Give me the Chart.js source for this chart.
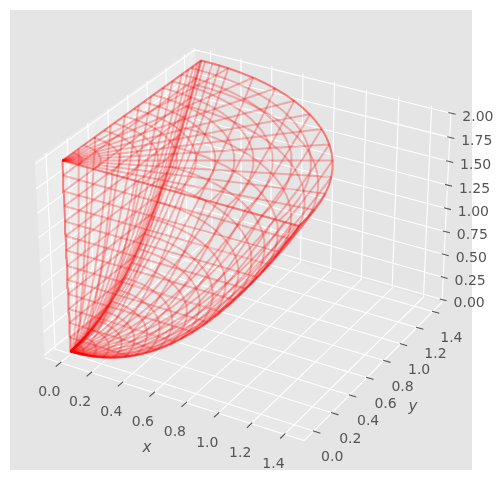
<!DOCTYPE html>
<html>
<head>
<meta charset="utf-8">
<style>
  body { margin: 0; background: white; }
  canvas { display: block; }
</style>
<script src="https://cdn.jsdelivr.net/npm/chart.js@4/dist/chart.umd.min.js"></script>
</head>
<body>
<canvas id="mychart" width="502" height="483"></canvas>
<script>
// wire positions
const topRings = [0.1, 0.2, 0.3, 0.4, 0.5, 0.6, 0.7, 0.8, 0.9, 1.0, 1.1, 1.2, 1.3, 1.414];
const bowlRings = [0.07, 0.14, 0.21, 0.28, 0.35, 0.42, 0.49, 0.56, 0.64, 0.71, 0.78, 0.85, 0.92, 0.99, 1.06, 1.13, 1.2, 1.27, 1.34, 1.414];
const topRays = [0, 7.5, 15, 22.5, 30, 37.5, 45, 52.5, 60, 67.5, 75, 82.5, 90];
const bowlRays = [0, 1.5, 7.5, 15, 22.5, 30, 37.5, 45, 52.5, 60, 67.5, 75, 82.5, 85, 87, 89, 90];
const wallLevels = [0.15, 0.31, 0.46, 0.62, 0.77, 0.92, 1.08, 1.23, 1.38, 1.54, 1.69, 1.85, 2];
const wallSpreads = [0, 0.11, 0.22, 0.33, 0.43, 0.53, 0.62, 0.71, 0.78, 0.85, 0.9, 0.94, 0.97, 0.99, 1];

const xTicks = [0, 0.2, 0.4, 0.6, 0.8, 1.0, 1.2, 1.4];
const yTicks = [0, 0.2, 0.4, 0.6, 0.8, 1.0, 1.2, 1.4];
const zTicks = [0, 0.25, 0.5, 0.75, 1.0, 1.25, 1.5, 1.75, 2.0];
const xPane = [-0.103, 1.517];
const yPane = [-0.103, 1.517];
const zPane = [-0.03, 2.03];

const edge = 1.414;
const topZ = 2;
const wireColor = "rgba(255, 0, 0, 0.27)";
const gridColor = "#ffffff";
const inkColor = "#555555";

// same camera as the picture: elevation 30, azimuth -60
function project(x, y, z) {
  let a = 0.7346 * (x - 0.7071);
  let b = 0.7346 * (y - 0.7071);
  let c = 0.4464 * (z - 1);
  let u = 0.866 * a + 0.5 * b;
  let v = -0.25 * a + 0.433 * b + 0.866 * c;
  let w = 0.433 * a - 0.75 * b + 0.5 * c;
  let d = 10 - w;
  return { x: 247 + 2500 * u / d, y: 234.5 - 2440 * v / d };
}

function makeLine(points, color, width) {
  return {
    data: points.map(p => project(p[0], p[1], p[2])),
    showLine: true,
    borderColor: color,
    borderWidth: width,
    pointRadius: 0,
    fill: false
  };
}

function makePane(points, color) {
  let line = makeLine(points.concat([points[0]]), color, 0);
  line.backgroundColor = color;
  line.fill = "shape";
  return line;
}

function sample(steps, fn) {
  let points = [];
  for (let i = 0; i <= steps; i++) {
    points.push(fn(i / steps));
  }
  return points;
}

function wireLines() {
  let lines = [];
  // flat lid at z = 2
  for (let r of topRings) {
    lines.push(sample(24, t => [r * Math.cos(t * Math.PI / 2), r * Math.sin(t * Math.PI / 2), topZ]));
  }
  for (let deg of topRays) {
    let angle = deg * Math.PI / 180;
    lines.push([[0, 0, topZ], [edge * Math.cos(angle), edge * Math.sin(angle), topZ]]);
  }
  // curved bowl
  for (let r of bowlRings) {
    lines.push(sample(24, t => [r * Math.cos(t * Math.PI / 2), r * Math.sin(t * Math.PI / 2), r * r]));
  }
  for (let deg of bowlRays) {
    let angle = deg * Math.PI / 180;
    lines.push(sample(24, t => [t * edge * Math.cos(angle), t * edge * Math.sin(angle), t * t * edge * edge]));
  }
  // the two flat walls at y = 0 and x = 0
  for (let wall of [s => s, s => [s[1], s[0], s[2]]]) {
    for (let z of wallLevels) {
      lines.push([wall([0, 0, z]), wall([Math.sqrt(z), 0, z])]);
    }
    for (let f of wallSpreads) {
      lines.push(sample(24, t => wall([f * edge * t, 0, topZ * t * t])));
    }
  }
  return lines.map(points => makeLine(points, wireColor, 2));
}

function gridLines() {
  let lines = [];
  for (let x of xTicks) {
    lines.push([[x, yPane[0], zPane[0]], [x, yPane[1], zPane[0]], [x, yPane[1], zPane[1]]]);
  }
  for (let y of yTicks) {
    lines.push([[xPane[1], y, zPane[0]], [xPane[0], y, zPane[0]], [xPane[0], y, zPane[1]]]);
  }
  for (let z of zTicks) {
    lines.push([[xPane[0], yPane[0], z], [xPane[0], yPane[1], z], [xPane[1], yPane[1], z]]);
  }
  // axis edges
  lines.push([[xPane[0], yPane[0], zPane[0]], [xPane[1], yPane[0], zPane[0]], [xPane[1], yPane[1], zPane[0]], [xPane[1], yPane[1], zPane[1]]]);
  return lines.map(points => makeLine(points, gridColor, 1.1));
}

function tickMarks() {
  let lines = [];
  for (let x of xTicks) {
    lines.push([[x, yPane[0] + 0.01, zPane[0]], [x, yPane[0] - 0.045, zPane[0]]]);
  }
  for (let y of yTicks) {
    lines.push([[xPane[1] - 0.005, y, zPane[0]], [xPane[1] + 0.04, y, zPane[0]]]);
  }
  for (let z of zTicks) {
    lines.push([[xPane[1] - 0.015, yPane[1], z], [xPane[1] + 0.028, yPane[1], z]]);
  }
  return lines.map(points => makeLine(points, inkColor, 1.1));
}

function panes() {
  return [
    makePane([[xPane[0], yPane[0], zPane[0]], [xPane[0], yPane[1], zPane[0]], [xPane[0], yPane[1], zPane[1]], [xPane[0], yPane[0], zPane[1]]], "#ececec"),
    makePane([[xPane[0], yPane[1], zPane[0]], [xPane[1], yPane[1], zPane[0]], [xPane[1], yPane[1], zPane[1]], [xPane[0], yPane[1], zPane[1]]], "#e5e5e5"),
    makePane([[xPane[0], yPane[0], zPane[0]], [xPane[1], yPane[0], zPane[0]], [xPane[1], yPane[1], zPane[0]], [xPane[0], yPane[1], zPane[0]]], "#e8e8e8")
  ];
}

const frame = {
  id: "frame",
  beforeDraw(chart) {
    let ctx = chart.ctx;
    ctx.save();
    ctx.fillStyle = "#e5e5e5";
    ctx.fillRect(10, 10, 462, 460);
    ctx.restore();
  },
  afterDraw(chart) {
    let ctx = chart.ctx;
    ctx.save();
    ctx.fillStyle = inkColor;
    ctx.textAlign = "center";
    ctx.textBaseline = "middle";
    ctx.font = "14px 'DejaVu Sans'";
    for (let x of xTicks) {
      let p = project(x, yPane[0], zPane[0]);
      ctx.fillText(x.toFixed(1), p.x - 11, p.y + 30);
    }
    for (let y of yTicks) {
      let p = project(xPane[1], y, zPane[0]);
      ctx.fillText(y.toFixed(1), p.x + 18.5, p.y + 26.5);
    }
    for (let z of zTicks) {
      let p = project(xPane[1], yPane[1], z);
      ctx.fillText(z.toFixed(2), p.x + 27, p.y + 4);
    }
    ctx.font = "italic 15px 'DejaVu Sans'";
    ctx.fillText("x", 147, 448);
    ctx.fillText("y", 413, 407);
    ctx.restore();
  }
};

// chart.js paints the first dataset last
let datasets = [].concat(wireLines(), tickMarks(), gridLines(), panes());

new Chart(document.getElementById("mychart").getContext("2d"), {
  type: "scatter",
  data: { datasets: datasets },
  plugins: [frame],
  options: {
    responsive: false,
    animation: false,
    layout: { padding: 0 },
    plugins: { legend: { display: false }, tooltip: { enabled: false } },
    scales: {
      x: { type: "linear", min: 0, max: 502, display: false },
      y: { type: "linear", min: 0, max: 483, reverse: true, display: false }
    }
  }
});
</script>
</body>
</html>
